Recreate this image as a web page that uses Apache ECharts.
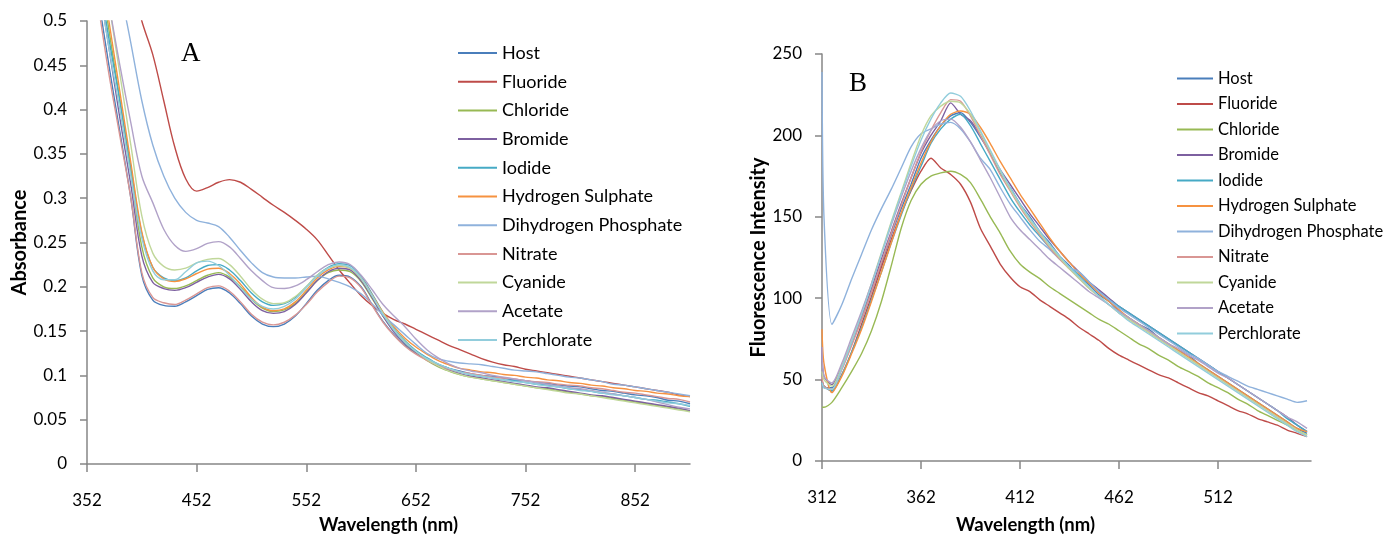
<!DOCTYPE html>
<html>
<head>
<meta charset="UTF-8">
<title></title>
<script src="https://cdn.jsdelivr.net/npm/echarts@6/dist/echarts.min.js"></script>
<style>html,body{margin:0;padding:0;background:#fff;}</style>
</head>
<body>
<div id="main" style="width:1391px;height:540px;"></div>
<script type="text/javascript">
var names = ['Host', 'Fluoride', 'Chloride', 'Bromide', 'Iodide', 'Hydrogen Sulphate',
  'Dihydrogen Phosphate', 'Nitrate', 'Cyanide', 'Acetate', 'Perchlorate'];
var colors = ['#4A7EBB', '#BE4B48', '#98B954', '#7D60A0', '#46AAC5', '#F69240',
  '#8FB2DC', '#D99694', '#C0D79A', '#B1A2C8', '#92CDDC'];

// panel A : absorbance
var wavesA = [352,362,372,382,392,402,412,422,432,442,452,462,472,482,492,502,512,522,532,542,
  552,562,572,582,592,602,612,622,632,642,652,662,672,682,692,702,712,722,732,742,
  752,762,772,782,792,802,812,822,832,842,852,862,872,882,892,902];
var absHost = [0.62,0.53,0.45,0.375,0.3,0.213,0.185,0.179,0.178,0.183,
  0.19,0.197,0.199,0.193,0.181,0.167,0.158,0.155,0.158,0.167,
  0.181,0.196,0.207,0.213,0.211,0.2,0.18,0.161,0.146,0.134,
  0.125,0.118,0.112,0.108,0.105,0.102,0.1,0.099,0.097,0.095,
  0.094,0.092,0.091,0.089,0.088,0.087,0.085,0.083,0.082,0.08,
  0.078,0.077,0.075,0.072,0.071,0.068];
var absFluoride = [0.9,0.8,0.7,0.62,0.55,0.5,0.462,0.41,0.358,0.322,
  0.308,0.312,0.318,0.321,0.318,0.31,0.301,0.292,0.284,0.275,
  0.265,0.253,0.236,0.219,0.204,0.19,0.179,0.17,0.163,0.158,
  0.152,0.146,0.14,0.134,0.129,0.124,0.119,0.115,0.112,0.11,
  0.107,0.105,0.103,0.101,0.099,0.097,0.095,0.093,0.091,0.089,
  0.087,0.085,0.083,0.081,0.078,0.076];
var absChloride = [0.66,0.57,0.49,0.41,0.33,0.245,0.21,0.2,0.198,0.201,
  0.207,0.213,0.216,0.211,0.2,0.186,0.176,0.172,0.174,0.181,
  0.194,0.207,0.216,0.219,0.217,0.206,0.187,0.167,0.15,0.136,
  0.126,0.117,0.11,0.105,0.101,0.098,0.096,0.094,0.092,0.09,
  0.088,0.086,0.085,0.083,0.081,0.079,0.077,0.076,0.074,0.072,
  0.07,0.068,0.066,0.064,0.062,0.06];
var absBromide = [0.64,0.55,0.47,0.39,0.315,0.235,0.205,0.198,0.196,0.199,
  0.205,0.211,0.214,0.209,0.197,0.183,0.173,0.17,0.172,0.18,
  0.193,0.207,0.217,0.221,0.219,0.207,0.188,0.167,0.149,0.136,
  0.126,0.118,0.111,0.106,0.102,0.099,0.097,0.095,0.093,0.091,
  0.089,0.087,0.086,0.084,0.082,0.08,0.078,0.077,0.075,0.073,
  0.071,0.069,0.067,0.065,0.063,0.06];
var absIodide = [0.65,0.56,0.48,0.41,0.335,0.26,0.222,0.21,0.207,0.21,
  0.218,0.224,0.225,0.219,0.207,0.193,0.183,0.179,0.181,0.188,
  0.2,0.213,0.222,0.226,0.224,0.212,0.192,0.171,0.153,0.139,
  0.128,0.12,0.113,0.108,0.104,0.101,0.099,0.097,0.095,0.094,
  0.092,0.09,0.089,0.087,0.085,0.084,0.082,0.08,0.079,0.077,
  0.075,0.073,0.072,0.07,0.068,0.065];
var absHSulphate = [0.67,0.58,0.5,0.42,0.34,0.262,0.222,0.209,0.206,0.209,
  0.215,0.22,0.221,0.215,0.203,0.188,0.177,0.173,0.175,0.183,
  0.196,0.21,0.219,0.223,0.221,0.21,0.191,0.171,0.155,0.142,
  0.132,0.124,0.117,0.112,0.108,0.106,0.104,0.103,0.101,0.1,
  0.098,0.097,0.095,0.094,0.092,0.091,0.089,0.088,0.086,0.085,
  0.083,0.082,0.08,0.079,0.077,0.076];
var absDPhosphate = [0.85,0.72,0.62,0.54,0.475,0.41,0.36,0.325,0.3,0.284,
  0.275,0.272,0.268,0.256,0.241,0.227,0.216,0.211,0.21,0.21,
  0.211,0.212,0.209,0.205,0.2,0.192,0.181,0.168,0.157,0.146,
  0.135,0.125,0.119,0.116,0.114,0.113,0.112,0.11,0.108,0.106,
  0.105,0.104,0.102,0.1,0.098,0.097,0.095,0.093,0.09,0.089,
  0.087,0.085,0.083,0.081,0.079,0.077];
var absNitrate = [0.6,0.52,0.44,0.37,0.3,0.216,0.188,0.182,0.18,0.185,
  0.192,0.199,0.201,0.195,0.183,0.169,0.16,0.157,0.16,0.168,
  0.18,0.194,0.205,0.212,0.21,0.199,0.179,0.16,0.145,0.133,
  0.124,0.117,0.111,0.107,0.104,0.102,0.1,0.098,0.097,0.096,
  0.094,0.093,0.092,0.09,0.089,0.088,0.086,0.085,0.083,0.081,
  0.08,0.078,0.076,0.074,0.073,0.07];
var absCyanide = [0.68,0.6,0.52,0.44,0.36,0.28,0.238,0.223,0.219,0.221,
  0.227,0.231,0.232,0.225,0.212,0.197,0.186,0.181,0.182,0.189,
  0.2,0.213,0.221,0.224,0.221,0.209,0.19,0.17,0.152,0.138,
  0.127,0.118,0.111,0.105,0.101,0.098,0.096,0.094,0.092,0.09,
  0.088,0.086,0.084,0.082,0.08,0.079,0.077,0.075,0.073,0.071,
  0.069,0.067,0.065,0.063,0.061,0.059];
var absAcetate = [0.72,0.6,0.52,0.45,0.385,0.325,0.295,0.265,0.247,0.24,
  0.243,0.249,0.251,0.245,0.232,0.218,0.207,0.199,0.198,0.201,
  0.208,0.217,0.225,0.228,0.225,0.213,0.197,0.18,0.167,0.155,
  0.141,0.129,0.12,0.113,0.108,0.105,0.103,0.1,0.098,0.096,
  0.094,0.092,0.09,0.088,0.086,0.085,0.083,0.081,0.079,0.077,
  0.075,0.073,0.07,0.067,0.064,0.062];
var absPerchlorate = [0.64,0.55,0.47,0.4,0.325,0.255,0.218,0.208,0.208,0.217,
  0.227,0.229,0.224,0.213,0.199,0.186,0.178,0.175,0.178,0.186,
  0.199,0.212,0.221,0.225,0.222,0.21,0.19,0.169,0.151,0.137,
  0.127,0.119,0.113,0.108,0.104,0.101,0.099,0.097,0.095,0.093,
  0.092,0.09,0.088,0.087,0.085,0.083,0.082,0.08,0.078,0.077,
  0.075,0.073,0.071,0.069,0.068,0.066];
var ticksA = [352, 452, 552, 652, 752, 852];

// panel B : fluorescence
var wavesB = [312,313,317,322,327,332,337,342,347,352,357,362,367,372,377,382,387,392,397,402,
  407,412,417,422,427,432,437,442,447,452,457,462,467,472,477,482,487,492,497,502,
  507,512,517,522,527,532,537,542,547,552,557];
var flHost = [48,45,45,57,72,87,104,121,139,155,170,186,197,206,212,214,208,199,189,177,
  168,158,150,141,134,126,120,113,108,102,98,92,88,84,81,76,72,68,65,60,
  56,52,48,44,40,36,32,28,24,20,17];
var flFluoride = [50,46,43,53,67,84,101,119,136,152,166,178,186,180,176,170,159,143,132,121,
  113,107,104,99,95,91,87,82,78,74,69,65,62,59,56,53,51,48,45,42,
  40,37,34,31,29,26,24,22,19,17,15];
var flChloride = [33,33,36,45,55,66,80,98,120,143,160,170,175,177,178,176,171,161,150,140,
  129,121,116,112,107,103,99,95,91,87,84,80,76,72,69,65,62,58,55,52,
  48,45,42,38,35,31,28,25,22,19,16];
var flBromide = [70,52,47,58,73,89,106,124,141,158,174,189,200,209,220,213,209,200,189,179,
  170,161,152,144,136,129,122,116,110,105,100,95,91,87,83,79,75,71,67,63,
  59,55,51,47,43,39,35,31,27,22,18];
var flIodide = [49,46,43,53,67,82,99,116,134,151,167,181,195,204,210,213,206,195,184,173,
  162,153,145,138,131,125,119,114,109,104,99,95,91,87,83,79,75,71,67,63,
  59,55,51,47,43,39,35,31,26,22,18];
var flHSulphate = [81,60,42,52,66,81,98,116,134,152,168,183,196,206,213,215,213,205,195,184,
  174,164,155,146,137,129,122,115,109,103,98,93,88,84,80,76,72,68,64,60,
  56,52,48,44,40,36,32,28,24,20,18];
var flDPhosphate = [239,150,84,96,112,127,142,155,167,180,193,201,204,207,208,204,196,186,179,168,
  158,150,142,135,130,124,119,116,110,104,99,94,90,86,82,78,74,70,66,63,
  59,55,52,49,46,44,42,40,38,36,37];
var flNitrate = [52,46,44,56,71,87,104,122,140,157,174,190,203,214,222,221,212,200,188,176,
  166,156,147,139,131,124,118,112,106,101,96,91,87,83,79,75,71,67,63,59,
  55,51,47,43,39,35,31,27,23,19,15];
var flCyanide = [55,50,46,58,74,91,109,128,147,165,183,200,212,218,221,220,213,202,190,178,
  167,157,148,140,132,125,118,112,106,101,96,91,87,83,79,75,71,67,63,59,
  55,51,47,43,39,35,31,27,23,19,16];
var flAcetate = [70,52,48,60,76,92,109,127,145,162,178,192,203,209,210,205,196,185,174,162,
  150,142,136,130,124,119,114,109,104,100,96,92,88,84,80,76,72,69,65,62,
  58,54,51,47,43,39,35,31,27,24,20];
var flPerchlorate = [48,45,44,57,73,90,108,127,146,164,181,197,210,220,226,224,215,203,191,179,
  168,158,149,141,133,126,119,113,107,101,96,91,86,82,78,74,70,66,62,58,
  54,50,46,42,38,34,30,26,22,18,15];
var ticksB = [312, 362, 412, 462, 512];

var absData = [absHost, absFluoride, absChloride, absBromide, absIodide, absHSulphate,
  absDPhosphate, absNitrate, absCyanide, absAcetate, absPerchlorate];
var flData = [flHost, flFluoride, flChloride, flBromide, flIodide, flHSulphate,
  flDPhosphate, flNitrate, flCyanide, flAcetate, flPerchlorate];

function pairs(xs, ys) {
  var out = [];
  for (var i = 0; i < xs.length; i++) out.push([xs[i], ys[i]]);
  return out;
}

var font = 'Lato, "Liberation Sans", sans-serif';
var axisGray = '#868686';

function xAxisCfg(idx, min, max, ticks, gap, pad) {
  return {
    type: 'value', gridIndex: idx, min: min, max: max,
    name: 'Wavelength (nm)', nameLocation: 'middle', nameGap: gap,
    nameTextStyle: { color: '#000', fontSize: 18.5, fontWeight: 'bold', fontFamily: font, padding: pad },
    axisLine: { show: true, lineStyle: { color: axisGray, width: 1.5 } },
    axisTick: { show: true, length: 8, customValues: ticks, lineStyle: { color: axisGray, width: 1.5 } },
    axisLabel: { customValues: ticks, color: '#000', fontSize: 17, fontFamily: font, margin: 28 },
    splitLine: { show: false }
  };
}
function yAxisCfg(idx, min, max, interval, name, gap, margin) {
  return {
    type: 'value', gridIndex: idx, min: min, max: max, interval: interval,
    name: name, nameLocation: 'middle', nameGap: gap,
    nameTextStyle: { color: '#000', fontSize: 20, fontWeight: 'bold', fontFamily: font },
    axisLine: { show: true, lineStyle: { color: axisGray, width: 1.5 } },
    axisTick: { show: true, length: 7, lineStyle: { color: axisGray, width: 1.5 } },
    axisLabel: { color: '#000', fontSize: 17, fontFamily: font, margin: margin },
    splitLine: { show: false }
  };
}

var series = [];
for (var i = 0; i < names.length; i++) {
  series.push({
    name: names[i], type: 'line', xAxisIndex: 0, yAxisIndex: 0,
    data: pairs(wavesA, absData[i]), symbol: 'none', smooth: 0.35,
    lineStyle: { color: colors[i], width: 1.4 }, itemStyle: { color: colors[i] }
  });
}
for (var j = 0; j < names.length; j++) {
  series.push({
    name: names[j], type: 'line', xAxisIndex: 1, yAxisIndex: 1,
    data: pairs(wavesB, flData[j]), symbol: 'none', smooth: 0.25,
    lineStyle: { color: colors[j], width: 1.4 }, itemStyle: { color: colors[j] }
  });
}

var myChart = echarts.init(document.getElementById('main'));
myChart.setOption({
  animation: false,
  backgroundColor: '#fff',
  grid: [
    { left: 87, top: 21, width: 603, height: 443 },
    { left: 822, top: 54, width: 489, height: 408 }
  ],
  xAxis: [xAxisCfg(0, 352, 902, ticksA, 52, 0), xAxisCfg(1, 312, 559, ticksB, 55, [0, 82, 0, 0])],
  yAxis: [
    yAxisCfg(0, 0, 0.5, 0.05, 'Absorbance', 57, 20),
    yAxisCfg(1, 0, 250, 50, 'Fluorescence Intensity', 50, 20)
  ],
  legend: [
    {
      data: names, orient: 'vertical', left: 458, top: 44, padding: 0,
      icon: 'rect', itemWidth: 39, itemHeight: 2, itemGap: 10.7, selectedMode: false,
      textStyle: { color: '#000', fontSize: 18, fontFamily: font }
    },
    {
      data: names, orient: 'vertical', left: 1177, top: 70, padding: 0,
      icon: 'rect', itemWidth: 36, itemHeight: 2, itemGap: 8.5, selectedMode: false,
      textStyle: { color: '#000', fontSize: 16.5, fontFamily: font }
    }
  ],
  graphic: [
    { type: 'text', left: 181, top: 40, style: { text: 'A', fontSize: 27, fontFamily: '"Liberation Serif", serif', fill: '#000' } },
    { type: 'text', left: 849, top: 70, style: { text: 'B', fontSize: 27, fontFamily: '"Liberation Serif", serif', fill: '#000' } }
  ],
  series: series
});
</script>
</body>
</html>
